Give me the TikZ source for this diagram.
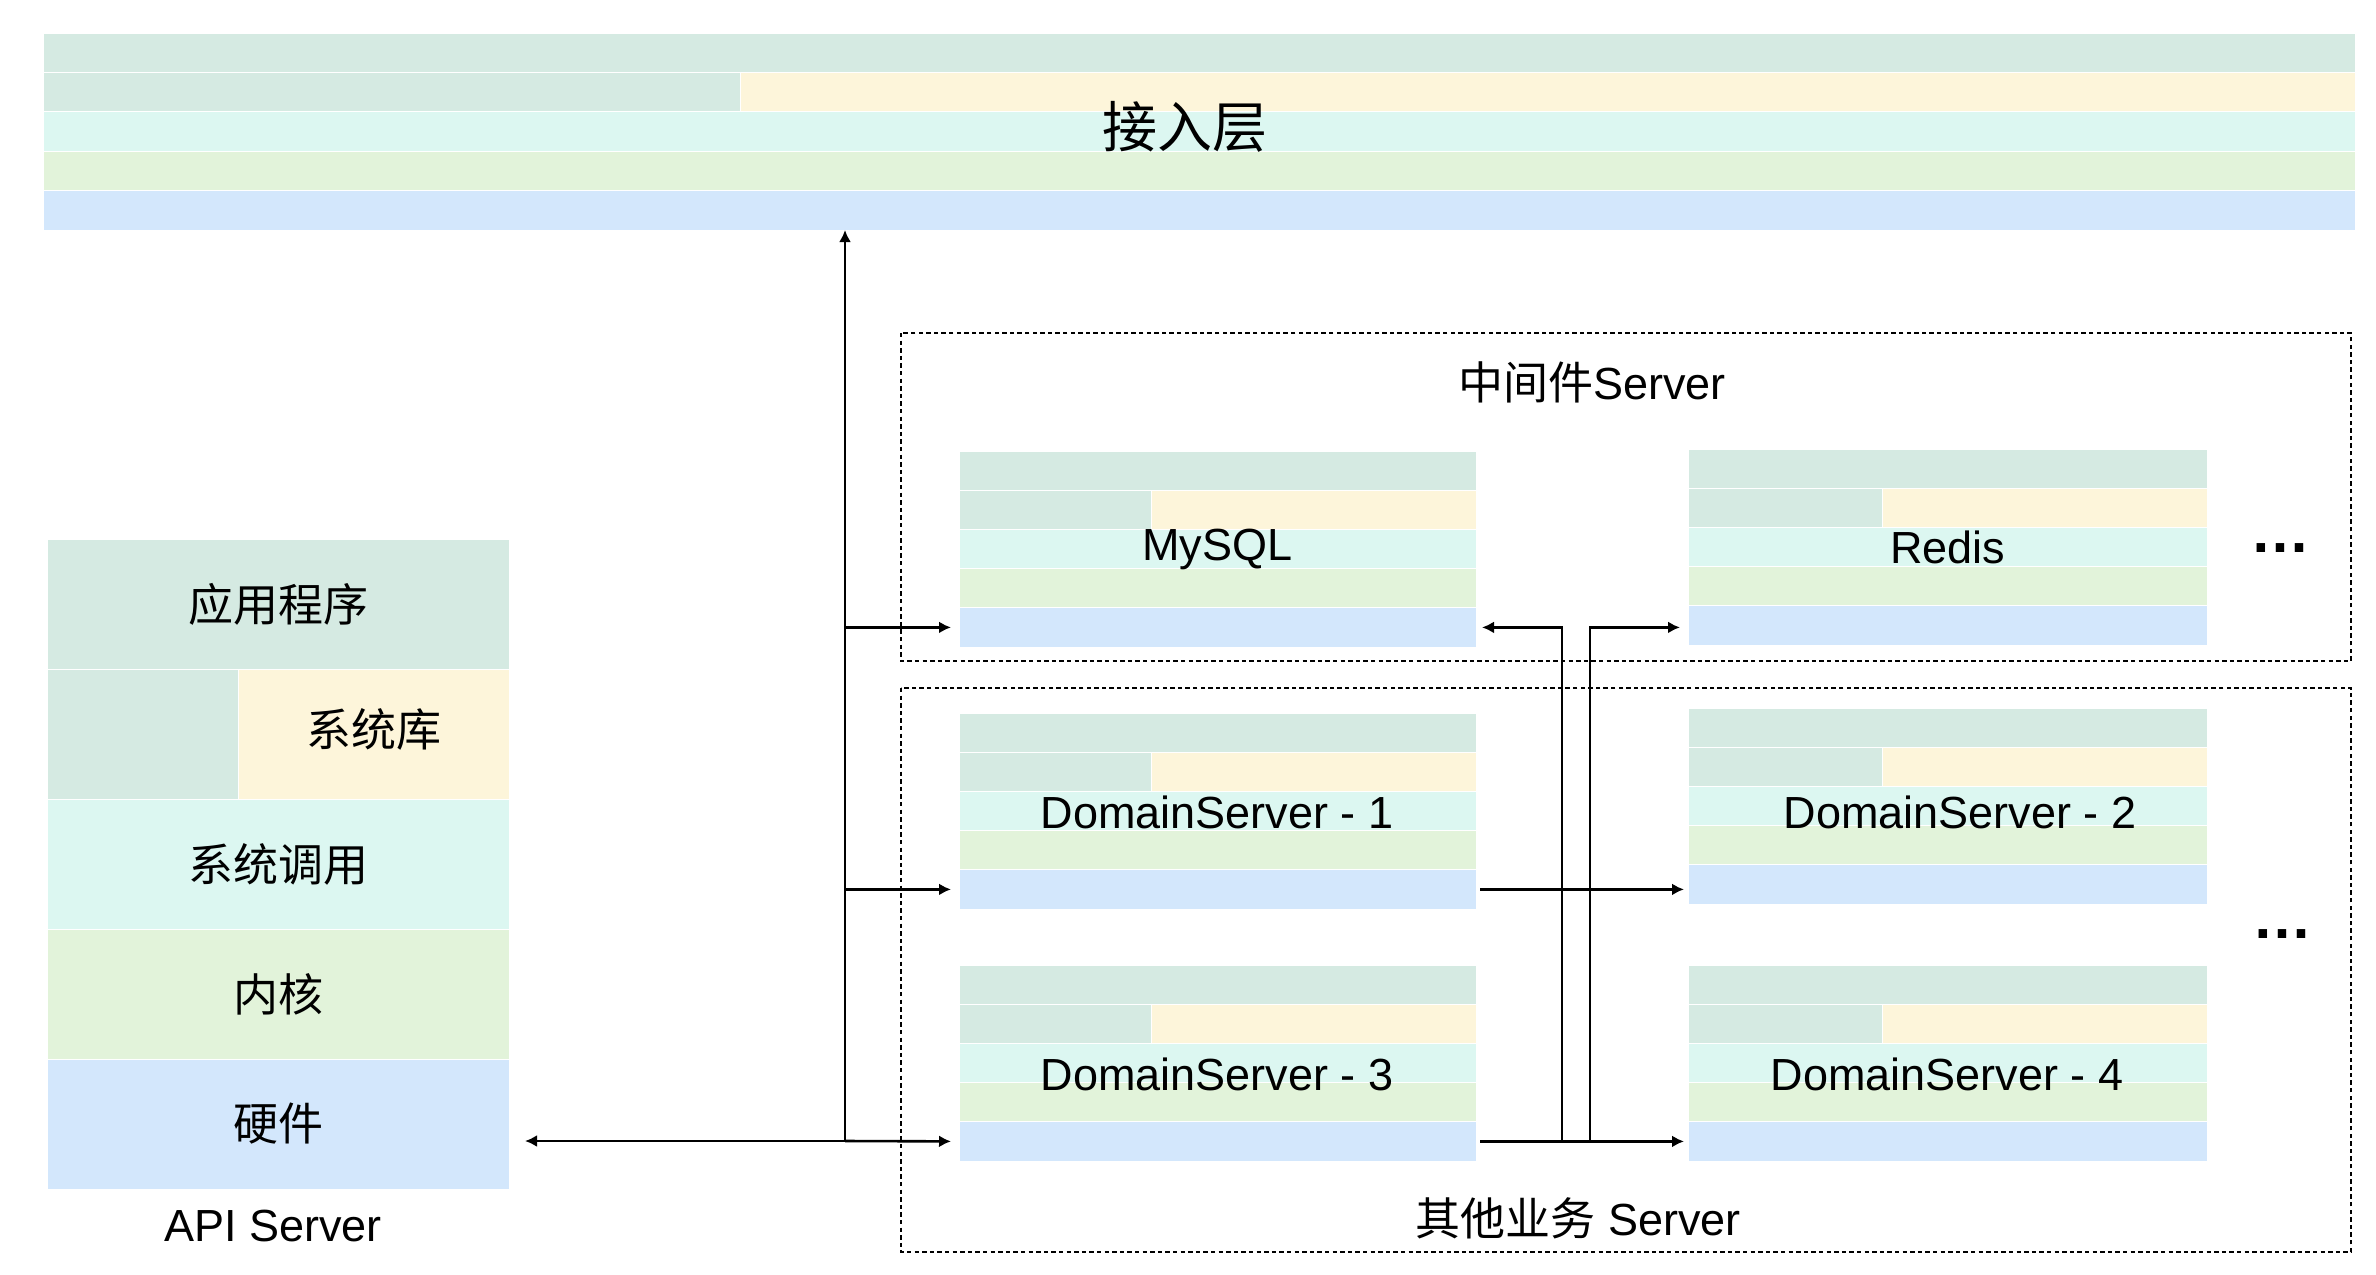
\documentclass[tikz,border=0pt]{standalone}
\usepackage{fontspec}
\setmainfont{Liberation Sans}
\newfontfamily\zh{Noto Sans CJK SC}
\usetikzlibrary{arrows.meta}

\definecolor{layerA}{HTML}{D5EAE2}
\definecolor{layerB}{HTML}{FDF5DA}
\definecolor{layerC}{HTML}{DCF7F1}
\definecolor{layerD}{HTML}{E2F3DA}
\definecolor{layerE}{HTML}{D3E7FC}

\tikzset{
  layer/.style={rectangle, inner sep=0pt, outer sep=0pt, anchor=north west,
    draw=white, line width=0.5pt},
  lbl/.style={inner sep=0pt, font=\fontsize{22.5}{27}\selectfont},
  dots/.style={inner sep=0pt, anchor=base, font=\fontsize{30}{34}\selectfont\bfseries},
  dashbox/.style={line width=1.1pt, dash pattern=on 2.2pt off 1.6pt},
  arr/.style={-{Latex[length=6pt,width=6pt]}, line width=1.3pt},
}

% name, top left x, top left y, width, row height, split
\newcommand{\layerstack}[6]{%
  \node[layer, fill=layerA, minimum width=#4*0.5pt, minimum height=#5*0.5pt] (#1-1) at (#2,#3) {};
  \node[layer, fill=layerA, minimum width=#6*0.5pt, minimum height=#5*0.5pt] (#1-2a) at (#2,#3+#5) {};
  \node[layer, fill=layerB, minimum width=(#4-#6)*0.5pt, minimum height=#5*0.5pt] (#1-2) at (#2+#6,#3+#5) {};
  \node[layer, fill=layerC, minimum width=#4*0.5pt, minimum height=#5*0.5pt] (#1-3) at (#2,#3+2*#5) {};
  \node[layer, fill=layerD, minimum width=#4*0.5pt, minimum height=#5*0.5pt] (#1-4) at (#2,#3+3*#5) {};
  \node[layer, fill=layerE, minimum width=#4*0.5pt, minimum height=#5*0.5pt] (#1-5) at (#2,#3+4*#5) {};
}

\begin{document}
\begin{tikzpicture}[x=0.5pt, y=-0.5pt]
    \useasboundingbox[fill=white] (0,0) rectangle (2376,1274);

    % ---------------------------------------------
    % access layer
    \layerstack{top}{43}{33}{2312}{39.4}{697}
    \node[lbl, font=\fontsize{27.5}{32}\selectfont] (toplabel) at (1185,127) {\zh 接入层};

    % api server
    \layerstack{api}{47}{539}{462}{130}{191}
    \node[lbl] at (api-1) {\zh 应用程序};
    \node[lbl, yshift=2.5pt] at (api-2) {\zh 系统库};
    \node[lbl] at (api-3) {\zh 系统调用};
    \node[lbl] at (api-4) {\zh 内核};
    \node[lbl] at (api-5) {\zh 硬件};
    \node[lbl] (apilabel) at (273,1226) {API Server};

    % middleware servers
    \draw[dashbox] (901,333) rectangle (2351,661);
    \node[lbl] (midlabel) at (1592,382) {{\zh 中间件}Server};
    \layerstack{mysql}{959}{451}{517}{39.2}{192}
    \node[lbl] at (mysql-3) {MySQL};
    \layerstack{redis}{1688}{449}{519}{39.2}{194}
    \node[lbl] at (redis-3) {Redis};
    \node[dots] (middots) at (2280,552) {…};

    % business servers
    \draw[dashbox] (901,688) rectangle (2351,1252);
    \node[lbl] (bizlabel) at (1578,1218) {{\zh 其他业务} Server};
    \layerstack{ds1}{959}{713}{517}{39.2}{192}
    \node[lbl] at (1217,812) {DomainServer - 1};
    \layerstack{ds2}{1688}{708}{519}{39.2}{194}
    \node[lbl] at (1960,812) {DomainServer - 2};
    \layerstack{ds3}{959}{965}{517}{39.2}{192}
    \node[lbl] at (1217,1074) {DomainServer - 3};
    \layerstack{ds4}{1688}{965}{519}{39.2}{194}
    \node[lbl] at (1947,1074) {DomainServer - 4};
    \node[dots] (bizdots) at (2282,938) {…};

    % connections from api server
    \coordinate (hub) at (845,1141);
    \draw[arr] (hub) -- (hub |- top-5.south);
    \draw[arr, shorten >=8pt] (hub) -- (hub -| api-5.east);
    \draw[arr, shorten >=4pt] (hub) -- (ds3-5.west);
    \draw[arr, shorten >=4pt] (hub |- mysql-5.west) -- (mysql-5.west);
    \draw[arr, shorten >=4pt] (hub |- ds1-5.west) -- (ds1-5.west);

    % connections between servers
    \draw[arr, shorten <=2pt, shorten >=2pt] (ds1-5.east) -- (ds1-5.east -| ds2-5.west);
    \draw[arr, shorten <=2pt, shorten >=2pt] (ds3-5.east) -- (ds4-5.west);
    \coordinate (jmysql) at (1562,1141);
    \coordinate (jredis) at (1590,1141);
    \draw[arr, shorten >=3pt] (jmysql) |- (mysql-5.east);
    \draw[arr, shorten >=4pt] (jredis) |- (mysql-5.east -| redis-5.west);

  \end{tikzpicture}
\end{document}
